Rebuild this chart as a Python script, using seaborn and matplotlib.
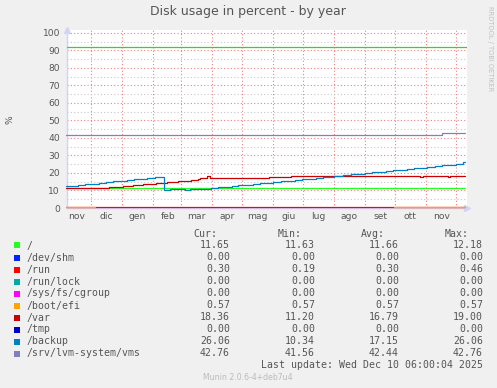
import pandas as pd
import matplotlib
matplotlib.use("Agg")
import matplotlib.pyplot as plt
import matplotlib.dates as mdates
from matplotlib.patches import Rectangle
from matplotlib.ticker import FuncFormatter
import seaborn as sns

W, H, DPI = 497, 388, 100

# legend table
labels = ["/", "/dev/shm", "/run", "/run/lock", "/sys/fs/cgroup", "/boot/efi",
          "/var", "/tmp", "/backup", "/srv/lvm-system/vms"]
colors = ["#22FF22", "#0022FF", "#FF0000", "#00AAAA", "#FF00FF", "#FFA500",
          "#CC0000", "#0000CC", "#0080C0", "#8080C0"]
cur = [11.65, 0.00, 0.30, 0.00, 0.00, 0.57, 18.36, 0.00, 26.06, 42.76]
mins = [11.63, 0.00, 0.19, 0.00, 0.00, 0.57, 11.20, 0.00, 10.34, 41.56]
avgs = [11.66, 0.00, 0.30, 0.00, 0.00, 0.57, 16.79, 0.00, 17.15, 42.44]
maxs = [12.18, 0.00, 0.46, 0.00, 0.00, 0.57, 19.00, 0.00, 26.06, 42.76]

month_names = ["gen", "feb", "mar", "apr", "mag", "giu", "lug", "ago", "set", "ott", "nov", "dic"]
warn_level = 92

t0, t1 = "2024-11-06", "2025-12-10"

# series, as step changes (date, value)
root_dates = [t0, t1]
root_vals = [11.65, 11.65]

zero_dates = [t0, t1]
zero_vals = [0.0, 0.0]

run_dates = [t0, t1]
run_vals = [0.30, 0.30]

efi_dates_a = [t0, "2024-12-05"]
efi_dates_b = ["2025-09-30", t1]
efi_vals = [0.57, 0.57]

var_dates = ["2024-11-06", "2024-12-03", "2024-12-19", "2025-01-02", "2025-01-12",
             "2025-01-22", "2025-02-04", "2025-02-15", "2025-02-26", "2025-03-11",
             "2025-03-18", "2025-03-20", "2025-03-27", "2025-03-30", "2025-05-28",
             "2025-06-19", "2025-10-26", "2025-10-29", "2025-11-23", "2025-11-25",
             "2025-12-10"]
var_vals = [11.2, 11.6, 12.2, 12.8, 13.4, 13.9, 14.5, 15.1, 15.7, 16.2,
            16.8, 17.4, 18.3, 17.4, 17.9, 18.4, 17.9, 18.4, 17.9, 18.4, 18.36]

backup_dates = ["2024-11-06", "2024-11-18", "2024-11-25", "2024-12-09", "2024-12-16",
                "2024-12-23", "2025-01-06", "2025-01-13", "2025-01-26", "2025-02-03",
                "2025-02-12", "2025-02-18", "2025-03-01", "2025-03-05", "2025-03-10",
                "2025-03-23", "2025-03-31", "2025-04-07", "2025-04-21", "2025-04-27",
                "2025-05-12", "2025-05-19", "2025-06-01", "2025-06-09", "2025-06-23",
                "2025-06-30", "2025-07-14", "2025-07-21", "2025-08-01", "2025-08-10",
                "2025-08-18", "2025-09-01", "2025-09-08", "2025-09-22", "2025-09-29",
                "2025-10-13", "2025-10-20", "2025-11-02", "2025-11-10", "2025-11-17",
                "2025-12-01", "2025-12-08", "2025-12-10"]
backup_vals = [12.8, 13.4, 13.9, 14.5, 15.1, 15.7, 16.2, 16.8, 17.4, 17.9,
               10.34, 10.7, 11.1, 10.4, 10.7, 11.1, 11.6, 12.2, 12.8, 13.4,
               13.9, 14.5, 15.1, 15.7, 16.2, 16.8, 17.4, 17.9, 18.5, 18.9,
               19.4, 20.0, 20.8, 21.4, 21.9, 22.5, 23.1, 23.7, 24.2, 24.8,
               25.4, 26.06, 26.06]

vms_dates = [t0, "2025-11-17", t1]
vms_vals = [41.9, 42.76, 42.76]

sns.set_style("white")
plt.rcParams["font.family"] = ["DejaVu Sans"]
text_col = "#555555"

fig = plt.figure(figsize=(W / DPI, H / DPI), dpi=DPI)
fig.patch.set_facecolor("#F0F0F0")
ax = fig.add_axes([67 / W, (H - 208) / H, 400 / W, 178 / H])
ax.set_facecolor("white")


def draw(dates, vals, color, z=3):
    sns.lineplot(x=pd.to_datetime(dates), y=vals, color=color, ax=ax,
                 drawstyle="steps-post", linewidth=0.9, estimator=None,
                 clip_on=(z < 3), zorder=z)


ax.axhline(warn_level, color="#22DD22", linewidth=0.9, zorder=3)
draw(root_dates, root_vals, colors[0])
draw(zero_dates, zero_vals, colors[1], z=2)
draw(run_dates, run_vals, colors[2])
draw(zero_dates, zero_vals, colors[3], z=2)
draw(zero_dates, zero_vals, colors[4], z=2)
draw(efi_dates_a, efi_vals, colors[5])
draw(efi_dates_b, efi_vals, colors[5])
draw(var_dates, var_vals, colors[6])
draw(zero_dates, zero_vals, colors[7], z=2)
draw(backup_dates, backup_vals, colors[8])
draw(vms_dates, vms_vals, colors[9])

ax.set_ylim(0, 101.7)
ax.set_xlim(pd.Timestamp("2024-12-01") - pd.Timedelta(days=24.3),
            pd.Timestamp("2025-12-01") + pd.Timedelta(days=10.7))

ax.set_yticks(range(0, 101, 10))
ax.set_yticks(range(5, 100, 10), minor=True)
ax.xaxis.set_major_locator(mdates.MonthLocator())
ax.xaxis.set_major_formatter(FuncFormatter(lambda v, p: ""))
ax.xaxis.set_minor_locator(mdates.MonthLocator(bymonthday=16))
ax.xaxis.set_minor_formatter(FuncFormatter(lambda v, p: month_names[mdates.num2date(v).month - 1]))

ax.grid(which="major", axis="both", color="#F08080", linewidth=0.8, linestyle=(0, (1, 2)))
ax.grid(which="minor", axis="y", color="#C8C8C8", linewidth=0.8, linestyle=(0, (1, 2)))
ax.set_axisbelow(True)

ax.tick_params(axis="y", which="major", length=2, color="#F08080", labelsize=6.6,
               labelcolor=text_col, pad=3)
ax.tick_params(axis="y", which="minor", length=2, color="#C8C8C8")
ax.tick_params(axis="x", which="major", length=3, color="#F08080")
ax.tick_params(axis="x", which="minor", length=0, labelsize=6.6, labelcolor=text_col, pad=3)
ax.set_xlabel("")
ax.set_ylabel("")

for s in ["top", "right"]:
    ax.spines[s].set_visible(False)
for s in ["left", "bottom"]:
    ax.spines[s].set_color("#D0D4F8")
    ax.spines[s].set_linewidth(1.0)
ax.plot([0], [1.0], marker="^", markersize=4, color="#D0D4F8", transform=ax.transAxes, clip_on=False)
ax.plot([1.0], [0], marker=">", markersize=4, color="#D0D4F8", transform=ax.transAxes, clip_on=False)

fig.text(248 / W, 1 - 12 / H, "Disk usage in percent - by year", ha="center", va="center",
         fontsize=9, color=text_col)
fig.text(10 / W, 1 - 120 / H, "%", rotation=90, ha="center", va="center", fontsize=6.6, color=text_col)
fig.text(490 / W, 1 - 6 / H, "RRDTOOL / TOBI OETIKER", rotation=270, ha="center", va="top",
         fontsize=4.8, color="#C0C0C0")
fig.text(248 / W, 1 - 377 / H, "Munin 2.0.6-4+deb7u4", ha="center", va="center",
         fontsize=5.6, color="#BBBBBB")

mono = dict(family="DejaVu Sans Mono", fontsize=7.1, color=text_col, va="center")
for hx, h in zip([217, 302, 385, 469], ["Cur:", "Min:", "Avg:", "Max:"]):
    fig.text(hx / W, 1 - 234 / H, h, ha="right", **mono)

for i, lab in enumerate(labels):
    y = 245.5 + 12 * i
    fig.add_artist(Rectangle((14 / W, 1 - (y + 3) / H), 6 / W, 6 / H,
                             transform=fig.transFigure, facecolor=colors[i], edgecolor="none"))
    fig.text(26.5 / W, 1 - y / H, lab, ha="left", **mono)
    for vx, v in zip([230, 315, 399, 483], [cur[i], mins[i], avgs[i], maxs[i]]):
        fig.text(vx / W, 1 - y / H, f"{v:.2f}", ha="right", **mono)

fig.text(483 / W, 1 - 365.5 / H, "Last update: Wed Dec 10 06:00:04 2025", ha="right", **mono)

fig.savefig("out.png", dpi=DPI, facecolor=fig.get_facecolor())
